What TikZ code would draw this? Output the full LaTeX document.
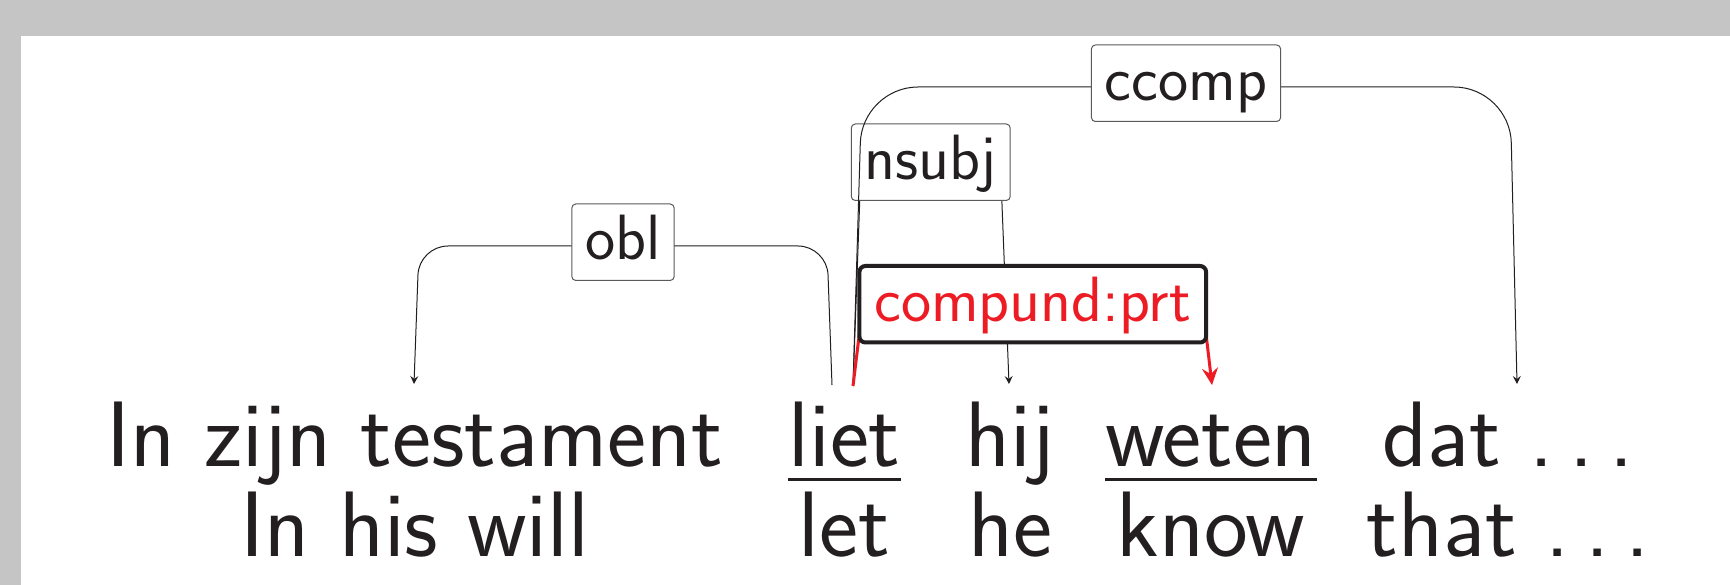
\documentclass[tikz,border=0pt]{standalone}
\usetikzlibrary{arrows.meta,calc}
\definecolor{ink}{RGB}{35,31,32}
\definecolor{frame}{RGB}{196,197,196}
\definecolor{relred}{RGB}{237,28,36}
\definecolor{boxline}{RGB}{90,90,90}
\newcommand{\ellipsisdots}{.\kern.1667em.\kern.1667em.}
\tikzset{
  word/.style={anchor=base, inner sep=0pt, text=ink,
    font=\sffamily\fontsize{93}{100}\selectfont},
  deplabel/.style={draw=boxline, line width=1pt, fill=white, rounded corners=4pt,
    inner xsep=13.5pt, inner ysep=0pt, text height=56pt, text depth=20.5pt,
    text=ink, font=\sffamily\fontsize{64}{70}\selectfont, anchor=base, yshift=-14pt},
  prtlabel/.style={deplabel, draw=ink, line width=4pt, rounded corners=6pt,
    text=relred, inner xsep=15pt},
  depedge/.style={draw=ink, line width=1pt},
  deparrow/.style={-{Stealth[length=8pt,width=8pt,inset=3pt]}},
  prtedge/.style={draw=relred, line width=3pt,
    -{Stealth[length=17pt,width=16pt,inset=6pt]}},
  uline/.style={draw=ink, line width=3pt},
}
\begin{document}
\begin{tikzpicture}[x=1pt,y=-1pt]
\useasboundingbox (0,0) rectangle (1730,585);
\fill[frame] (0,0) rectangle (1730,585);
\fill[white] (21,36) rectangle (1730,585);

% sentence and gloss
\node[word] (w1) at (415,466) {In zijn testament};
\node[word] (w2) at (844.5,466) {liet};
\node[word] (w3) at (1010,466) {hij};
\node[word] (w4) at (1211,466) {weten};
\node[word] (w5) at (1508,466) {dat \ellipsisdots};
\node[word] (g1) at (415,556) {In his will};
\node[word] (g2) at (844.5,556) {let};
\node[word] (g3) at (1010,556) {he};
\node[word] (g4) at (1211,556) {know};
\node[word] (g5) at (1508,556) {that \ellipsisdots};

% underlined particle verb
\draw[uline] ($(w2.base west)+(0,13.5)$) -- ($(w2.base east)+(0,13.5)$);
\draw[uline] ($(w4.base west)+(0,13.5)$) -- ($(w4.base east)+(0,13.5)$);

% feet of the arcs above each word
\foreach \w in {w1,w2,w3,w4,w5}
  \coordinate (\w f) at ($(\w.base)+(0,-81)$);

% obl
\draw[depedge, deparrow, rounded corners=29pt]
  ($(w2f)+(-12.5,0)$) -- ($(w2f)+(-17.5,-139)$)
  -- node[deplabel, midway, rounded corners=4pt] (lobl) {obl}
  ($(w1f)+(4,-139)$) -- ($(w1f)+(-1,-1)$);

% nsubj
\draw[depedge, deparrow, rounded corners=20pt]
  ($(w2f)+(8.5,1)$) -- ($(w2f)+(16.5,-219)$)
  -- node[deplabel, midway, rounded corners=4pt] (lnsubj) {nsubj}
  ($(w3f)+(-9.5,-219)$) -- ($(w3f)+(-1,-1)$);

% ccomp
\draw[depedge, deparrow, rounded corners=56pt]
  ($(w2f)+(8.5,1)$) -- ($(w2f)+(17.5,-298)$)
  -- node[deplabel, midway, rounded corners=4pt] (lccomp) {ccomp}
  ($(w5f)+(2,-298)$) -- ($(w5f)+(9,-1)$);

% compound:prt
\draw[prtedge, rounded corners=10pt]
  ($(w2f)+(8.5,1)$) -- ($(w2f)+(18,-77)$)
  -- node[prtlabel, midway, rounded corners=6pt] (lprt) {compund:prt}
  ($(w4f)+(-8,-77)$) -- ($(w4f)+(1,0)$);
\end{tikzpicture}
\end{document}
